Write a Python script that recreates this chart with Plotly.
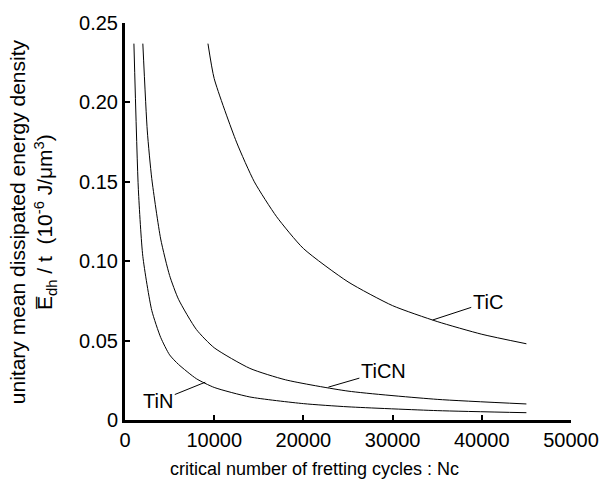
import plotly.graph_objects as go

# Data
tin_n = [1000, 1500, 2000, 3000, 4000, 5000, 6000, 8000, 10000, 14000, 20000, 25000, 35000, 45000]
tin_e = [0.237, 0.145, 0.103, 0.069, 0.052, 0.041, 0.035, 0.026, 0.0205, 0.0145, 0.0103, 0.0083, 0.0059, 0.0046]

ticn_n = [2000, 2500, 3000, 4000, 5000, 6000, 8000, 10000, 14000, 18000, 25000, 35000, 45000]
ticn_e = [0.237, 0.182, 0.152, 0.114, 0.091, 0.076, 0.057, 0.0455, 0.0325, 0.0253, 0.0182, 0.0130, 0.0101]

tic_n = [9300, 10000, 12500, 14500, 17000, 20000, 25000, 30000, 35000, 40000, 45000]
tic_e = [0.237, 0.215, 0.175, 0.150, 0.128, 0.108, 0.087, 0.072, 0.062, 0.054, 0.048]

x_ticks = [0, 10000, 20000, 30000, 40000, 50000]
y_ticks = [0, 0.05, 0.10, 0.15, 0.20, 0.25]
y_ticktext = ["0", "0.05", "0.10", "0.15", "0.20", "0.25"]

x_title = "critical number of fretting cycles : Nc"
y_title = ("unitary mean dissipated energy density<br>"
           "E\u0305<sub>dh</sub> / t  (10<sup>-6</sup> J/\u03bcm<sup>3</sup>)")

# label anchor points on the curves: (name, N, E, dx, dy)
labels = [
    ("TiC", 34500, 0.063, 55, -18),
    ("TiCN", 22800, 0.0207, 55, -16),
    ("TiN", 9000, 0.0238, -47, 19),
]

FONT = "Liberation Sans, Arial, sans-serif"

fig = go.Figure()
for xs, ys in [(tin_n, tin_e), (ticn_n, ticn_e), (tic_n, tic_e)]:
    fig.add_trace(go.Scatter(x=xs, y=ys, mode="lines", line=dict(color="black", width=1),
                             line_shape="spline", line_smoothing=0.6,
                             showlegend=False, hoverinfo="skip"))

for name, nx, ey, dx, dy in labels:
    fig.add_annotation(x=nx, y=ey, xref="x", yref="y", text=name, showarrow=True,
                       arrowhead=0, arrowwidth=1, arrowcolor="black", ax=dx, ay=dy,
                       font=dict(family=FONT, size=20, color="black"))

# axis titles (the reference's x title sits left of the plot centre)
fig.add_annotation(text=x_title, xref="paper", yref="paper", x=0.424, y=-0.124,
                   xanchor="center", yanchor="middle", showarrow=False,
                   font=dict(family=FONT, size=18, color="black"))
fig.add_annotation(text=y_title, xref="paper", yref="paper", x=-0.207, y=0.5,
                   xanchor="center", yanchor="middle", showarrow=False, textangle=-90,
                   font=dict(family=FONT, size=21, color="black"))

fig.update_layout(
    width=614, height=490,
    margin=dict(l=125, r=43, t=18, b=70),
    paper_bgcolor="white", plot_bgcolor="white",
    font=dict(family=FONT, size=20, color="black"),
    xaxis=dict(range=[0, 50000], tickvals=x_ticks, ticktext=[str(v) for v in x_ticks],
               showgrid=False, zeroline=False, showline=True, linecolor="black", linewidth=3,
               ticks="inside", ticklen=5, tickwidth=2, tickcolor="black",
               ticklabeloverflow="allow"),
    yaxis=dict(range=[0, 0.25], tickvals=y_ticks, ticktext=y_ticktext,
               showgrid=False, zeroline=False, showline=True, linecolor="black", linewidth=3,
               ticks="inside", ticklen=5, tickwidth=2, tickcolor="black",
               ticklabeloverflow="allow"),
)

# remove the page's default body margin so the figure fills the window exactly
fig.write_html("out.html", config={"displayModeBar": False},
               post_script="document.body.style.margin='0';document.body.style.overflow='hidden';")
